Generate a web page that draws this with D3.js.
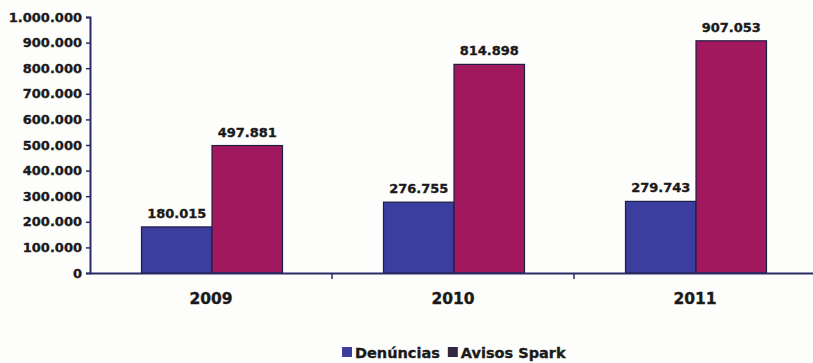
<!DOCTYPE html>
<html>
<head>
<meta charset="utf-8">
<script src="https://cdn.jsdelivr.net/npm/d3@7"></script>
<style>
  html, body { margin: 0; padding: 0; background: #fdfdfb; }
  svg { display: block; }
  text { font-family: "DejaVu Sans", Arial, sans-serif; font-weight: bold; fill: #1a1a1a; stroke: #1a1a1a; stroke-width: 0.35px; }
</style>
</head>
<body>
<svg id="chart" width="813" height="363"></svg>
<script>
const categories = ["2009", "2010", "2011"];
const seriesNames = ["Denúncias", "Avisos Spark"];
const denuncias = [180015, 276755, 279743];
const avisosSpark = [497881, 814898, 907053];
const yTicks = [0, 100000, 200000, 300000, 400000, 500000, 600000, 700000, 800000, 900000, 1000000];
const valueLabels = [["180.015", "276.755", "279.743"], ["497.881", "814.898", "907.053"]];

const colors = ["#3b3d9f", "#a2185e"];
const legendColors = ["#3b3d9f", "#33283f"];
const axisColor = "#2b2b68";

const svg = d3.select("#chart");
const x0 = d3.scaleBand().domain(categories).range([90, 816]).padding(0);
const x1 = d3.scaleBand().domain(seriesNames).range([0, 141]).padding(0);
const groupOffset = (x0.bandwidth() - 141) / 2 + 1;
const y = d3.scaleLinear().domain([0, 1000000]).range([273, 17]);

const fmt = v => v === 0 ? "0" : d3.format(",")(v).replace(/,/g, ".");

// Y axis
const yAxis = svg.append("g").attr("transform", "translate(90,0)")
  .call(d3.axisLeft(y).tickValues(yTicks).tickFormat(fmt).tickSize(4).tickPadding(4));
yAxis.select(".domain").attr("stroke", axisColor).attr("stroke-width", 2);
yAxis.selectAll(".tick line").attr("stroke", axisColor).attr("stroke-width", 1.5);
yAxis.selectAll(".tick text").style("font-size", "13px").style("font-family", "DejaVu Sans").style("font-weight", "bold").attr("fill", "#1a1a1a");

// Bars
const data = categories.map((c, i) => ({cat: c, vals: [denuncias[i], avisosSpark[i]]}));
const groups = svg.append("g").selectAll("g").data(data).join("g")
  .attr("transform", d => `translate(${x0(d.cat) + groupOffset},0)`);
groups.selectAll("rect").data(d => d.vals.map((v, j) => ({v, j}))).join("rect")
  .attr("x", d => x1(seriesNames[d.j]))
  .attr("y", d => y(d.v))
  .attr("width", x1.bandwidth())
  .attr("height", d => y(0) - y(d.v))
  .attr("fill", d => colors[d.j])
  .attr("stroke", "#1e1e45")
  .attr("stroke-width", 1.2);
groups.selectAll("text.val").data((d, i) => d.vals.map((v, j) => ({v, j, i}))).join("text")
  .attr("class", "val")
  .attr("x", d => x1(seriesNames[d.j]) + x1.bandwidth() / 2)
  .attr("y", d => y(d.v) - 9)
  .attr("text-anchor", "middle")
  .style("font-size", "13px")
  .text(d => valueLabels[d.j][d.i]);

// X axis
const xAxis = svg.append("g").attr("transform", "translate(0,273)")
  .call(d3.axisBottom(x0).tickSize(0).tickPadding(20));
xAxis.select(".domain").attr("stroke", axisColor).attr("stroke-width", 2);
xAxis.selectAll(".tick text").style("font-size", "15.5px").style("font-family", "DejaVu Sans").style("font-weight", "bold").attr("fill", "#1a1a1a");
// category boundary ticks
svg.append("g").selectAll("line").data(categories.slice(1)).join("line")
  .attr("x1", d => x0(d)).attr("x2", d => x0(d))
  .attr("y1", 273).attr("y2", 279)
  .attr("stroke", axisColor).attr("stroke-width", 1.5);

// Legend
const legend = svg.append("g").attr("transform", "translate(342,347)");
let lx = 0;
seriesNames.forEach((name, i) => {
  legend.append("rect").attr("x", lx).attr("y", 0).attr("width", 10).attr("height", 10)
    .attr("fill", legendColors[i]);
  const t = legend.append("text").attr("x", lx + 13).attr("y", 10.5)
    .style("font-size", "14.5px").text(name);
  lx += 13 + t.node().getComputedTextLength() + 8;
});
</script>
</body>
</html>
